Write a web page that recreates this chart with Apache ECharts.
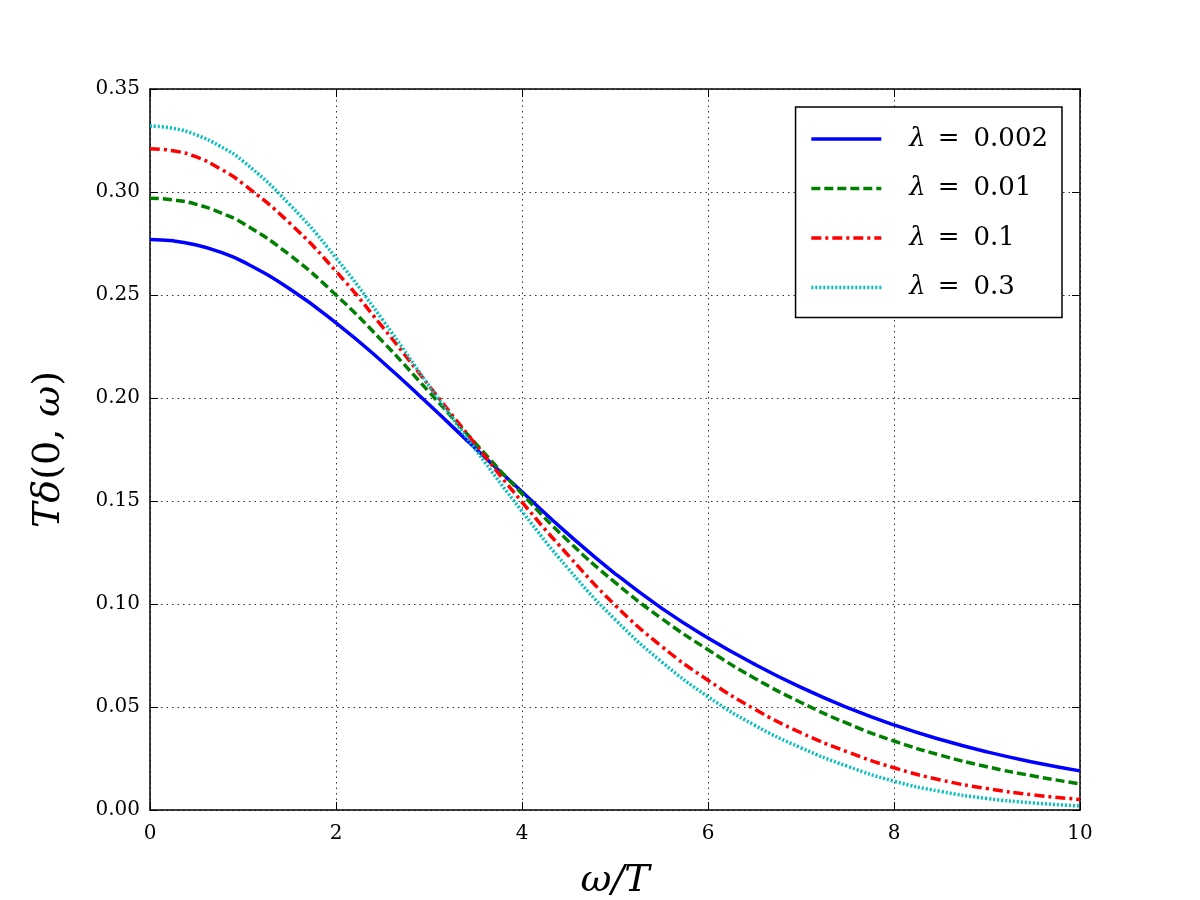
<!DOCTYPE html>
<html>
<head>
<meta charset="utf-8">
<title>T delta (0, omega)</title>
<script src="https://cdn.jsdelivr.net/npm/echarts@6/dist/echarts.min.js"></script>
<style>
    html, body { margin: 0; padding: 0; background: #fff; }
    #main { width: 1200px; height: 900px; }
</style>
</head>
<body>
<div id="main"></div>
<script>
    // omega / T sample points
    var omega = [0, 0.25, 0.5, 0.75, 1, 1.5, 2, 2.5, 3, 3.5, 4, 4.5, 5, 5.5, 6, 6.5, 7, 7.5, 8, 8.5, 9, 9.5, 10];

    // values
    var lam0002 = [0.2770, 0.2763, 0.2743, 0.2709, 0.2662, 0.2530, 0.2365, 0.2175, 0.1968, 0.1755, 0.1545, 0.1338, 0.1148, 0.0980, 0.0835, 0.0708, 0.0595, 0.0497, 0.0413, 0.0342, 0.0282, 0.0232, 0.0190];
    var lam001  = [0.2970, 0.2962, 0.2940, 0.2901, 0.2848, 0.2695, 0.2500, 0.2275, 0.2030, 0.1780, 0.1535, 0.1305, 0.1105, 0.0930, 0.0778, 0.0640, 0.0522, 0.0420, 0.0335, 0.0266, 0.0210, 0.0165, 0.0127];
    var lam01   = [0.3210, 0.3200, 0.3170, 0.3114, 0.3040, 0.2850, 0.2615, 0.2345, 0.2060, 0.1775, 0.1495, 0.1235, 0.0995, 0.0795, 0.0630, 0.0490, 0.0375, 0.0282, 0.0205, 0.0146, 0.0104, 0.0073, 0.0051];
    var lam03   = [0.3320, 0.3309, 0.3277, 0.3223, 0.3150, 0.2940, 0.2680, 0.2380, 0.2060, 0.1750, 0.1450, 0.1170, 0.0925, 0.0720, 0.0550, 0.0412, 0.0302, 0.0212, 0.0140, 0.0090, 0.0056, 0.0034, 0.0020];

    var names = ['0.002', '0.01', '0.1', '0.3'];

    function pairs(ys) {
        return omega.map(function (x, i) { return [x, ys[i]]; });
    }

    var serif = 'DejaVu Serif';
    var gridLine = { show: true, lineStyle: { color: '#333', width: 1, type: [1.5, 4] } };
    var frame = { show: true, onZero: false, lineStyle: { color: '#000', width: 1.5 } };
    var tick = { show: true, inside: true, length: 8, lineStyle: { color: '#000', width: 1 } };

    var myChart = echarts.init(document.getElementById('main'));

    myChart.setOption({
        animation: false,
        backgroundColor: '#fff',
        grid: { left: 150, right: 120, top: 89, bottom: 90, outerBoundsMode: 'none', containLabel: false },
        legend: {
            right: 138, top: 107,
            orient: 'vertical',
            padding: [19, 14, 17, 14],
            itemWidth: 70, itemHeight: 14, itemGap: 23.5,
            backgroundColor: '#fff',
            borderColor: '#000', borderWidth: 1.5, borderRadius: 0,
            itemStyle: { opacity: 0 },
            lineStyle: { width: 3.5 },
            data: names.map(function (n) { return 'λ = ' + n; }),
            formatter: function (name) {
                return '{i|λ}{e|=}' + name.split('= ')[1];
            },
            textStyle: {
                fontFamily: serif, fontSize: 26, color: '#000', padding: [0, 0, 0, 23],
                rich: {
                    i: { fontFamily: serif, fontStyle: 'italic', fontSize: 26 },
                    e: { fontFamily: serif, fontSize: 26, padding: [0, 14, 0, 12] }
                }
            }
        },
        xAxis: [{
            type: 'value', min: 0, max: 10, interval: 2,
            name: 'ω/T', nameLocation: 'middle', nameGap: 52,
            nameTextStyle: { fontFamily: serif, fontStyle: 'italic', fontSize: 38, color: '#000' },
            axisLine: frame, axisTick: tick, splitLine: gridLine,
            axisLabel: { fontFamily: serif, fontSize: 20, color: '#000', margin: 14 }
        }, {
            type: 'value', position: 'top', min: 0, max: 10, interval: 2,
            axisLine: frame, axisTick: tick, axisLabel: { show: false }, splitLine: { show: false }
        }],
        yAxis: [{
            type: 'value', min: 0, max: 0.35, interval: 0.05,
            name: '{i|Tδ}(0, {i|ω})', nameLocation: 'middle', nameGap: 82,
            nameTextStyle: {
                fontFamily: serif, fontSize: 38, color: '#000',
                rich: { i: { fontFamily: serif, fontStyle: 'italic', fontSize: 38 } }
            },
            axisLine: frame, axisTick: tick, splitLine: gridLine,
            axisLabel: {
                fontFamily: serif, fontSize: 20, color: '#000', margin: 10,
                formatter: function (v) { return v.toFixed(2); }
            }
        }, {
            type: 'value', position: 'right', min: 0, max: 0.35, interval: 0.05,
            axisLine: frame, axisTick: tick, axisLabel: { show: false }, splitLine: { show: false }
        }],
        series: [{
            name: 'λ = 0.002', type: 'line', data: pairs(lam0002),
            smooth: 0.5, showSymbol: false, symbol: 'none', color: '#0000ff',
            lineStyle: { width: 3.5, type: 'solid' }
        }, {
            name: 'λ = 0.01', type: 'line', data: pairs(lam001),
            smooth: 0.5, showSymbol: false, symbol: 'none', color: '#008000',
            lineStyle: { width: 3.5, type: [9, 4] }
        }, {
            name: 'λ = 0.1', type: 'line', data: pairs(lam01),
            smooth: 0.5, showSymbol: false, symbol: 'none', color: '#ff0000',
            lineStyle: { width: 3.5, type: [10, 4, 3, 4] }
        }, {
            name: 'λ = 0.3', type: 'line', data: pairs(lam03),
            smooth: 0.5, showSymbol: false, symbol: 'none', color: '#00bfbf',
            lineStyle: { width: 3.5, type: [2, 2] }
        }]
    });
</script>
</body>
</html>
